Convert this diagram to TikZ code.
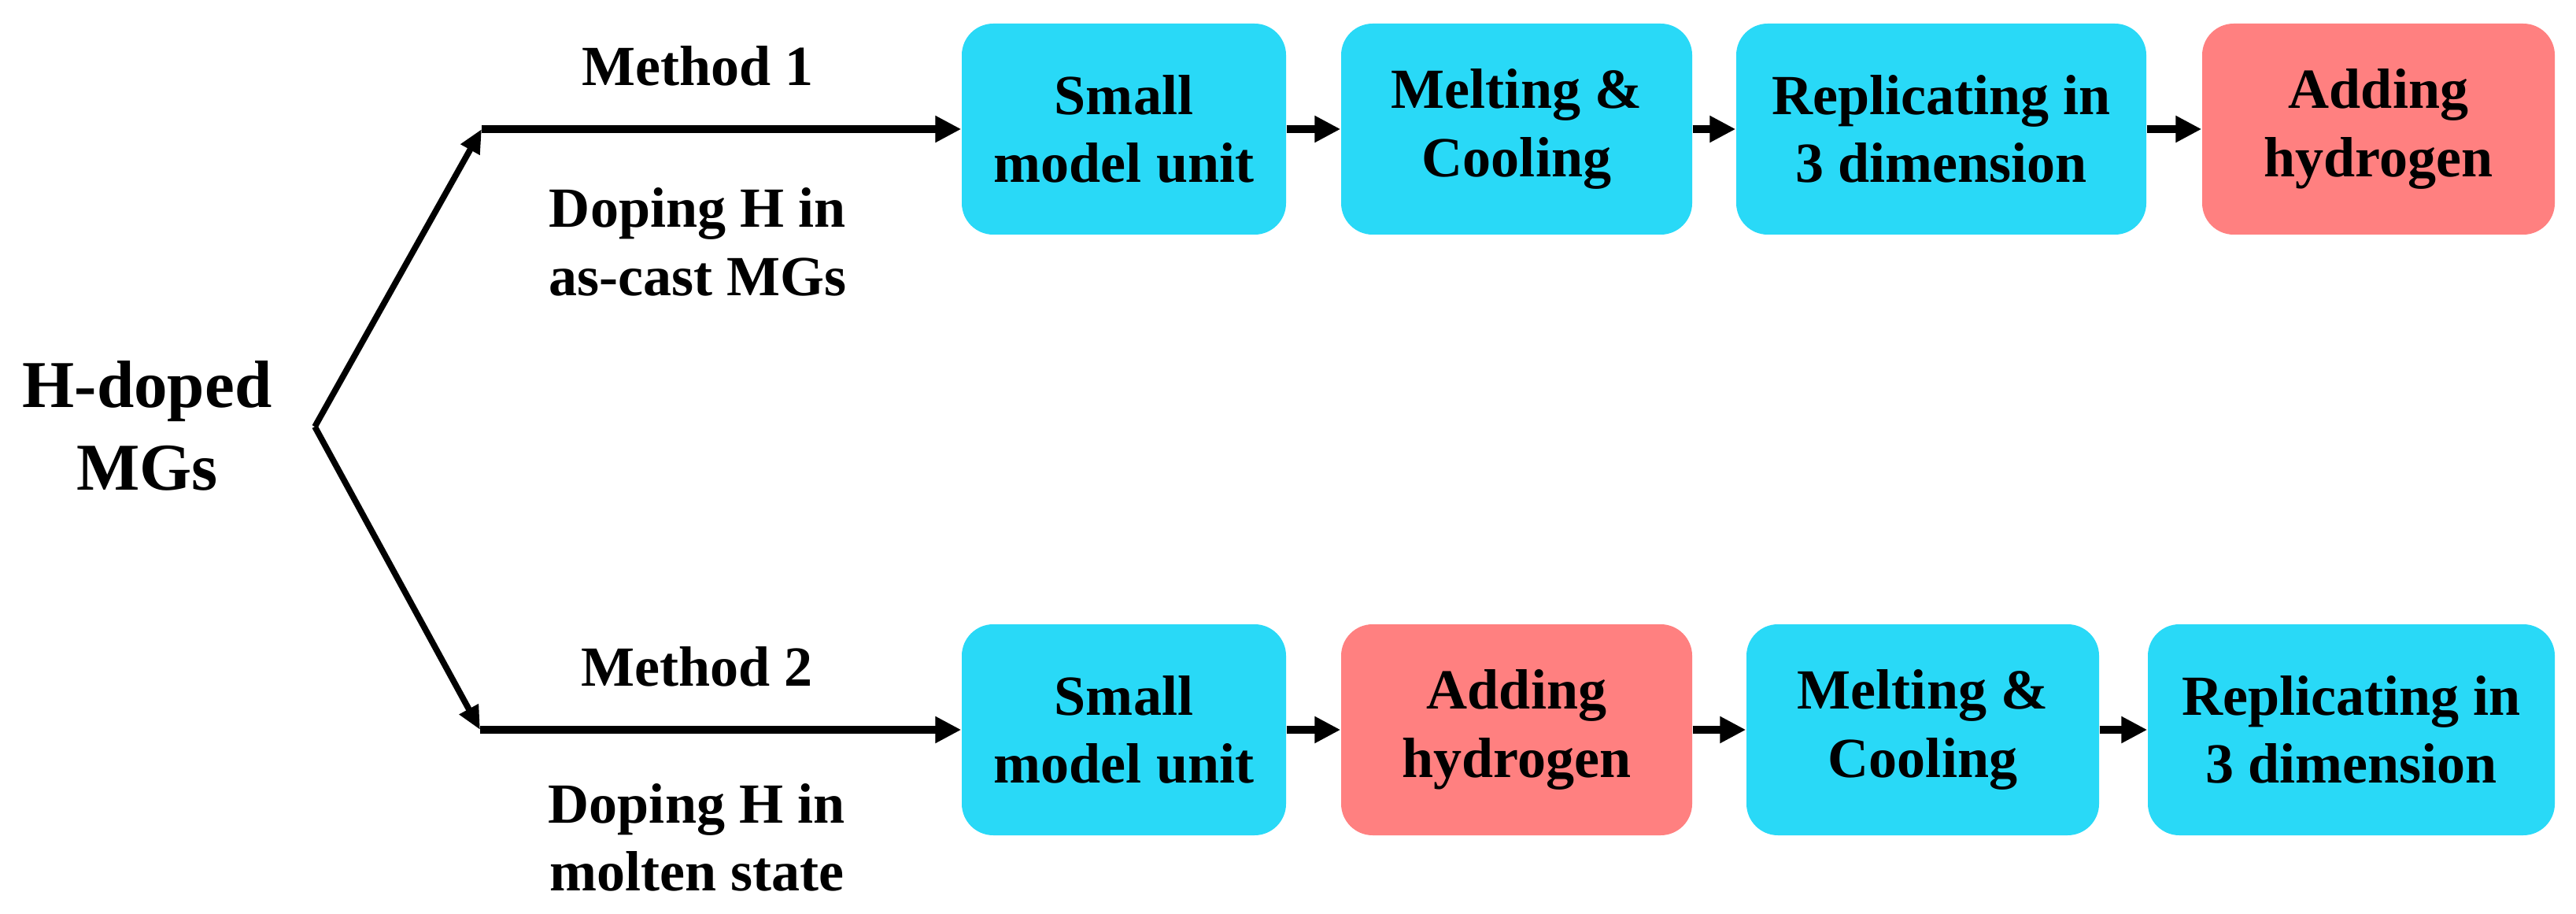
\documentclass[tikz,border=0pt]{standalone}
\usepackage{fontspec}
\setmainfont{Liberation Serif}
\usepackage{tikz}
\usetikzlibrary{arrows.meta, shapes, backgrounds}

\definecolor{stepcyan}{RGB}{41,217,247}
\definecolor{stepred}{RGB}{255,128,128}

\begin{document}
\begin{tikzpicture}[background rectangle/.style={fill=white}, show background rectangle]
\useasboundingbox (0,0) rectangle (32.73,-11.61);

\node[align=center, inner sep=0pt, font=\fontsize{24.2}{29.9}\selectfont\bfseries] (H) at (1.87,-5.41) {H-doped\\MGs};
\coordinate (split) at (4.00,-5.42);
\coordinate (up) at (6.12,-1.64);
\coordinate (down) at (6.10,-9.27);

\begin{scope}[every node/.style={rounded corners=0.4cm, minimum height=2.68cm, inner sep=0pt, align=center, font=\fontsize{20.5}{24.5}\selectfont\bfseries}]
  % method 1
  \node[fill=stepcyan, minimum width=4.12cm] (A1) at (14.28,-1.64) {Small\\model unit};
  \node[fill=stepcyan, minimum width=4.46cm] (A2) at (19.27,-1.64) {Melting \&\\Cooling};
  \node[fill=stepcyan, minimum width=5.21cm] (A3) at (24.665,-1.64) {Replicating in\\3 dimension};
  \node[fill=stepred, minimum width=4.48cm] (A4) at (30.22,-1.64) {Adding\\hydrogen};
  % method 2
  \node[fill=stepcyan, minimum width=4.12cm] (B1) at (14.28,-9.27) {Small\\model unit};
  \node[fill=stepred, minimum width=4.46cm] (B2) at (19.27,-9.27) {Adding\\hydrogen};
  \node[fill=stepcyan, minimum width=4.48cm] (B3) at (24.43,-9.27) {Melting \&\\Cooling};
  \node[fill=stepcyan, minimum width=5.17cm] (B4) at (29.875,-9.27) {Replicating in\\3 dimension};
\end{scope}

\begin{scope}[>={Triangle[length=0.3cm, width=0.26cm]},
              every edge/.style={draw=black, line width=2.2pt}]
    \path [->] (split) edge (up);
    \path [->] (split) edge (down);
\end{scope}

\begin{scope}[>={Triangle[length=0.33cm, width=0.32cm]},
              every node/.style={inner sep=0pt, align=center, font=\fontsize{20.5}{24.5}\selectfont\bfseries},
              every edge/.style={draw=black, line width=0.1cm}]
    \path [->] (up) edge node[pos=0.45, above=0.5cm] {Method 1}
                        node[pos=0.45, below=0.7cm] {Doping H in\\as-cast MGs} (A1);
    \path [->] (down) edge node[pos=0.45, above=0.5cm] {Method 2}
                          node[pos=0.45, below=0.63cm] {Doping H in\\molten state} (B1);
    \path [->] (A1) edge (A2);
    \path [->] (A2) edge (A3);
    \path [->] (A3) edge (A4);
    \path [->] (B1) edge (B2);
    \path [->] (B2) edge (B3);
    \path [->] (B3) edge (B4);
\end{scope}

\end{tikzpicture}
\end{document}
